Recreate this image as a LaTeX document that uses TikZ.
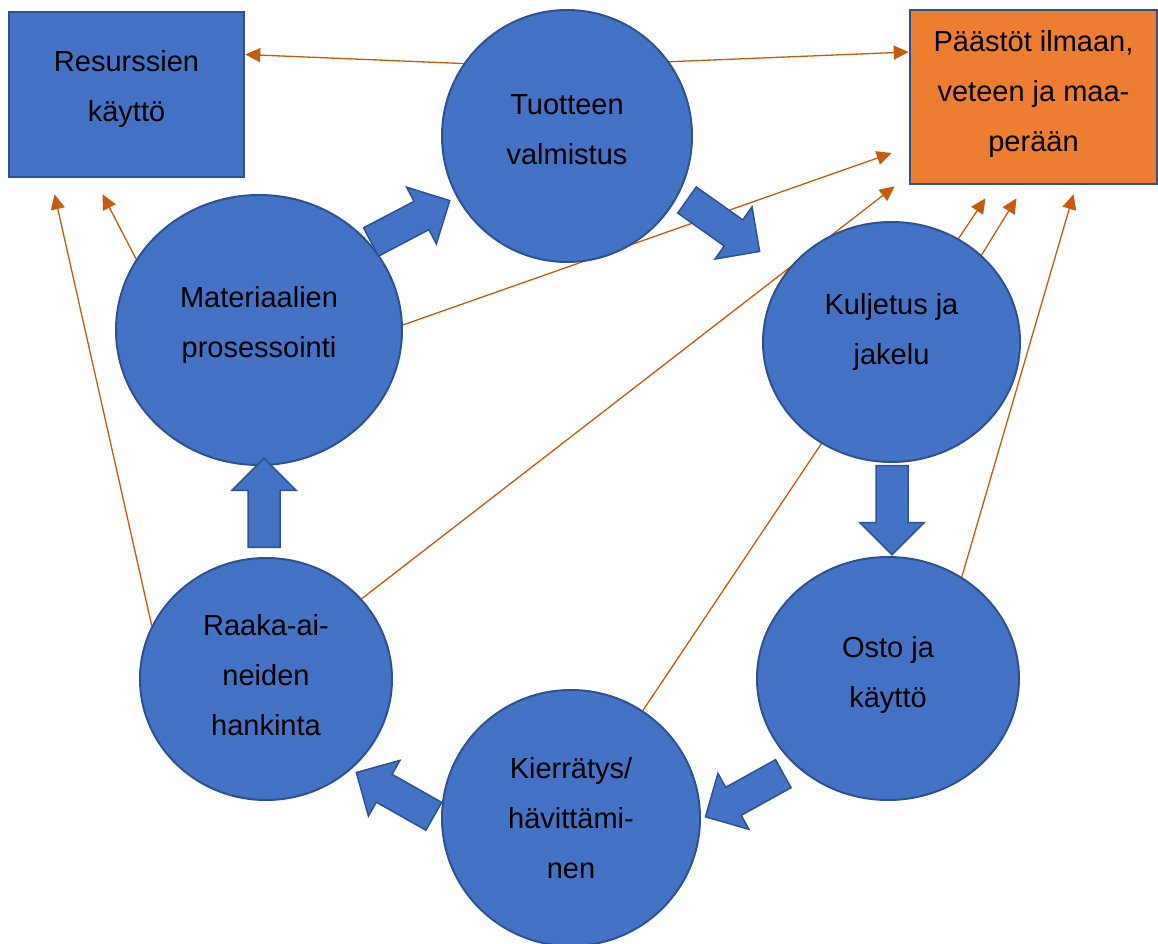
\documentclass[tikz,border=0pt]{standalone}
\usepackage{fontspec}
\setmainfont{Liberation Sans}
\usepackage{tikz}
\usetikzlibrary{shapes.geometric}
\usetikzlibrary{arrows.meta}
\usetikzlibrary{backgrounds}

\definecolor{phasefill}{HTML}{4472C4}
\definecolor{phaseline}{HTML}{2F528F}
\definecolor{emisfill}{HTML}{ED7D31}
\definecolor{emisline}{HTML}{C55A11}

\tikzset{
  txt/.style={align=center, font=\fontsize{29}{50}\selectfont, inner sep=0pt},
  phase/.style={ellipse, draw=phaseline, line width=2pt, fill=phasefill, inner sep=0pt},
  rbox/.style={rectangle, draw=phaseline, line width=2.5pt, inner sep=0pt},
  emit/.style={draw=emisline, line width=1.3pt, -{Triangle[length=15pt,width=14pt]}},
  blockarrow/.style={draw=phaseline, line width=1.5pt, fill=phasefill, line join=miter},
  fatarrow/.pic={\draw[blockarrow] (0,16) -- (57,16) -- (57,32) -- (89,0) -- (57,-32) -- (57,-16) -- (0,-16) -- cycle;}
}

\begin{document}
\begin{tikzpicture}[x=1pt, y=-1pt]
    \useasboundingbox (0,0) rectangle (1158,944);
    % boxes
    \node[rbox, fill=phasefill, minimum width=235pt, minimum height=165pt,
          label={[txt, yshift=5pt]center:Resurssien\\käyttö}] (res) at (126.5,94.5) {};
    \node[rbox, fill=emisfill, minimum width=247pt, minimum height=174pt,
          label={[txt, yshift=3pt]center:{Päästöt ilmaan,\\veteen ja maa-\\perään}}] (paastot) at (1033.5,97) {};
    % life cycle phases
    \node[phase, minimum width=250pt, minimum height=252pt,
          label={[txt, yshift=6pt]center:Tuotteen\\valmistus}] (tuot) at (567,136) {};
    \node[phase, minimum width=286pt, minimum height=270pt,
          label={[txt, yshift=5pt]center:Materiaalien\\prosessointi}] (mat) at (259,330) {};
    \node[phase, minimum width=257pt, minimum height=240pt,
          label={[txt, yshift=10pt]center:Kuljetus ja\\jakelu}] (kulj) at (891.5,342) {};
    \node[phase, minimum width=262pt, minimum height=243pt,
          label={[txt, yshift=3.5pt]center:Osto ja\\käyttö}] (osto) at (888,678.5) {};
    \node[phase, minimum width=258pt, minimum height=256pt,
          label={[txt, yshift=0pt]center:Kierrätys/\\hävittämi-\\nen}] (kierr) at (571,818) {};
    \node[phase, minimum width=252pt, minimum height=242pt,
          label={[txt, yshift=4pt]center:Raaka-ai-\\neiden\\hankinta}] (raaka) at (266,679) {};
    % cycle arrows
    \pic[rotate=27.7] at (371,242) {fatarrow};
    \pic[rotate=-35.3] at (687,200) {fatarrow};
    \pic[rotate=-90] at (892,465.7) {fatarrow};
    \pic[rotate=209] at (783.3,773.7) {fatarrow};
    \pic[rotate=150.5] at (433.8,816.3) {fatarrow};
    \pic[rotate=90] at (264,547.3) {fatarrow};
    % resources and emissions
    \begin{scope}[on background layer]
    \draw[emit] (tuot.145) -- ([yshift=40pt]res.east);
    \draw[emit] (tuot.36) -- ([yshift=45pt]paastot.west);
    \draw[emit] (mat.2) -- ([xshift=-17pt,yshift=-56pt]paastot.west);
    \draw[emit] (mat.150) -- ([xshift=-24pt,yshift=-16pt]res.south);
    \draw[emit] (raaka.155) -- ([xshift=-72pt,yshift=-16pt]res.south);
    \draw[emit] (raaka.40) -- ([xshift=-14pt,yshift=-1pt]paastot.south west);
    \draw[emit] (kierr) -- ([xshift=-48pt,yshift=-13pt]paastot.south);
    \draw[emit] (kulj.44) -- ([xshift=-17pt,yshift=-13pt]paastot.south);
    \draw[emit] (osto.54) -- ([xshift=40pt,yshift=-9pt]paastot.south);
    \end{scope}
\end{tikzpicture}
\end{document}
